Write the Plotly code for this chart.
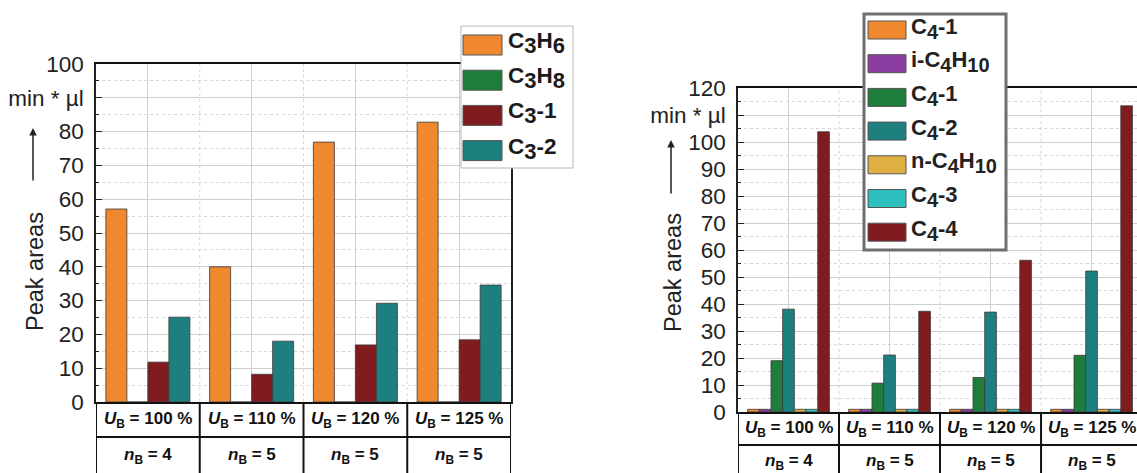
import plotly.graph_objects as go

W, H = 1137, 473

# ---------------- data ----------------
conditions = ["100 %", "110 %", "120 %", "125 %"]
n_b = [4, 5, 5, 5]

c3_names = ["C<sub>3</sub>H<sub>6</sub>", "C<sub>3</sub>H<sub>8</sub>",
            "C<sub>3</sub>-1", "C<sub>3</sub>-2"]
c3h6 = [57.1, 40.0, 76.9, 82.8]
c3h8 = [0.0, 0.0, 0.0, 0.0]
c3_1 = [11.8, 8.2, 16.9, 18.4]
c3_2 = [25.1, 18.0, 29.2, 34.6]
c3_colors = ["#F0882E", "#1F7D3C", "#801C20", "#1E7F7F"]

c4_names = ["C<sub>4</sub>-1", "i-C<sub>4</sub>H<sub>10</sub>", "C<sub>4</sub>-1",
            "C<sub>4</sub>-2", "n-C<sub>4</sub>H<sub>10</sub>", "C<sub>4</sub>-3",
            "C<sub>4</sub>-4"]
c4_1a = [1.0, 1.0, 1.0, 1.0]
i_c4h10 = [1.0, 1.0, 1.0, 1.0]
c4_1b = [19.0, 10.7, 12.8, 21.0]
c4_2 = [38.1, 21.1, 37.0, 52.2]
n_c4h10 = [1.0, 1.0, 1.0, 1.0]
c4_3 = [1.0, 1.0, 1.0, 1.0]
c4_4 = [103.8, 37.3, 56.2, 113.4]
c4_colors = ["#F0882E", "#8A3CA0", "#1F7D3C", "#1E7F7F", "#E0AF42", "#2EBFBF", "#801C20"]

c3_series = [c3h6, c3h8, c3_1, c3_2]
c4_series = [c4_1a, i_c4h10, c4_1b, c4_2, n_c4h10, c4_3, c4_4]

unit_text = "min * µl"
left_ticks = list(range(0, 101, 10))
right_ticks = list(range(0, 121, 10))


def px(x):
    return x / W


def py(y):
    return 1 - y / H


def big_sub(label, size):
    return label.replace("<sub>", '<sub><span style="font-size:%spx">' % size).replace(
        "</sub>", "</span></sub>")


FONT = "Liberation Sans"
fig = go.Figure()

for name, vals, col in zip(c3_names, c3_series, c3_colors):
    fig.add_trace(go.Bar(x=conditions, y=vals, name=name, marker_color=col,
                         marker_line=dict(color="#3a3a3a", width=0.8),
                         xaxis="x", yaxis="y", showlegend=False))
for name, vals, col in zip(c4_names, c4_series, c4_colors):
    fig.add_trace(go.Bar(x=conditions, y=vals, name=name, marker_color=col,
                         marker_line=dict(color="#3a3a3a", width=0.8),
                         xaxis="x2", yaxis="y2", showlegend=False))

ydef = dict(showline=True, linecolor="#222", linewidth=1.5, ticks="inside", ticklen=6,
            tickwidth=1.2, tickcolor="#222", showgrid=True, gridcolor="#cfcfcf", gridwidth=1,
            tickfont=dict(family=FONT, size=22.5, color="#222"), zeroline=False,
            ticklabelstandoff=6, automargin=False, tickmode="array",
            minor=dict(dtick=5, ticks="inside", ticklen=3, tickcolor="#222",
                       showgrid=True, gridcolor="#d6d6d6", griddash="dot"))
xdef = dict(type="category", showline=True, linecolor="#111", linewidth=2, mirror=True,
            showticklabels=False, ticks="", showgrid=True, gridcolor="#cfcfcf", zeroline=False,
            automargin=False)

fig.update_layout(
    width=W, height=H, margin=dict(l=0, r=0, t=0, b=0, autoexpand=False),
    paper_bgcolor="white", plot_bgcolor="white",
    barmode="group", bargap=0.19, bargroupgap=0,
    xaxis=dict(xdef, domain=[px(96), px(511)], range=[-0.5, 3.5], anchor="y"),
    yaxis=dict(ydef, domain=[py(402), py(64)], range=[0, 100], mirror=True, anchor="x",
               tickvals=left_ticks,
               ticktext=[unit_text if v == 90 else str(v) for v in left_ticks]),
    xaxis2=dict(xdef, domain=[px(738), 1.0], range=[-0.5, 3.45], anchor="y2"),
    yaxis2=dict(ydef, domain=[py(412), py(88)], range=[0, 120], anchor="x2",
                tickvals=right_ticks,
                ticktext=[unit_text if v == 110 else str(v) for v in right_ticks]),
    font=dict(family=FONT, color="#222"),
)

shapes = []
ann = []

# minor vertical dotted grid lines at group boundaries
for xr, yr in (("x", "y domain"), ("x2", "y2 domain")):
    for i in range(1, len(conditions)):
        shapes.append(dict(type="line", xref=xr, yref=yr, x0=i - 0.5, x1=i - 0.5, y0=0, y1=1,
                           line=dict(color="#d6d6d6", width=1, dash="dot"), layer="below"))

# table below each chart
for xr, top, mid, bot, dy in (("x", 402, 437, 420, 456), ("x2", 412, 445, 429, 462)):
    for i in range(len(conditions) + 1):
        shapes.append(dict(type="line", xref=xr, yref="paper", x0=i - 0.5, x1=i - 0.5,
                           y0=py(top), y1=py(H + 10), line=dict(color="#111", width=2)))
    shapes.append(dict(type="line", xref=xr + " domain", yref="paper", x0=0, x1=1,
                       y0=py(mid), y1=py(mid), line=dict(color="#111", width=2)))
    for i, (c, n) in enumerate(zip(conditions, n_b)):
        ann.append(dict(xref=xr, yref="paper", x=i, y=py(bot), showarrow=False,
                        text="<b><i>U</i><sub>B</sub> = %s</b>" % c,
                        font=dict(family=FONT, size=17, color="#111"),
                        xanchor="center", yanchor="middle"))
        ann.append(dict(xref=xr, yref="paper", x=i, y=py(dy), showarrow=False,
                        text="<b><i>n</i><sub>B</sub> = %d</b>" % n,
                        font=dict(family=FONT, size=17, color="#111"),
                        xanchor="center", yanchor="middle"))

# axis titles: "Peak areas" and arrow
for xt, yt, ya0, ya1 in ((35, 272, 128, 182), (673, 273, 140, 195)):
    ann.append(dict(xref="paper", yref="paper", x=px(xt), y=py(yt), text="Peak areas",
                    textangle=-90, showarrow=False,
                    font=dict(family=FONT, size=23.5, color="#222"),
                    xanchor="center", yanchor="middle"))
    ann.append(dict(xref="paper", yref="paper", x=px(xt - 2), y=py(ya0), text="", showarrow=True,
                    ax=0, ay=ya1 - ya0, arrowhead=2, arrowsize=1, arrowwidth=1.5,
                    arrowcolor="#222"))

# legend 1 (C3)
shapes.append(dict(type="rect", xref="paper", yref="paper", x0=px(461), x1=px(573),
                   y0=py(168), y1=py(26), fillcolor="white", line=dict(color="#b8b8b8", width=1)))
for k, (name, col) in enumerate(zip(c3_names, c3_colors)):
    yc = 45 + k * 35.2
    shapes.append(dict(type="rect", xref="paper", yref="paper", x0=px(463), x1=px(502),
                       y0=py(yc + 10), y1=py(yc - 10), fillcolor=col,
                       line=dict(color="#555", width=1)))
    ann.append(dict(xref="paper", yref="paper", x=px(506), y=py(yc - 2),
                    text="<b>%s</b>" % big_sub(name, 22),
                    showarrow=False, xanchor="left", yanchor="middle",
                    font=dict(family=FONT, size=22.5, color="#1a1a1a")))

# legend 2 (C4)
shapes.append(dict(type="rect", xref="paper", yref="paper", x0=px(864), x1=px(1006),
                   y0=py(250), y1=py(14), fillcolor="white", line=dict(color="#6e6e6e", width=3)))
for k, (name, col) in enumerate(zip(c4_names, c4_colors)):
    yc = 30 + k * 33.7
    shapes.append(dict(type="rect", xref="paper", yref="paper", x0=px(868), x1=px(906),
                       y0=py(yc + 9), y1=py(yc - 9), fillcolor=col,
                       line=dict(color="#555", width=1)))
    ann.append(dict(xref="paper", yref="paper", x=px(909), y=py(yc - 2),
                    text="<b>%s</b>" % big_sub(name, 20),
                    showarrow=False, xanchor="left", yanchor="middle",
                    font=dict(family=FONT, size=22, color="#222")))

fig.update_layout(shapes=shapes, annotations=ann)
fig.write_html("out.html")
